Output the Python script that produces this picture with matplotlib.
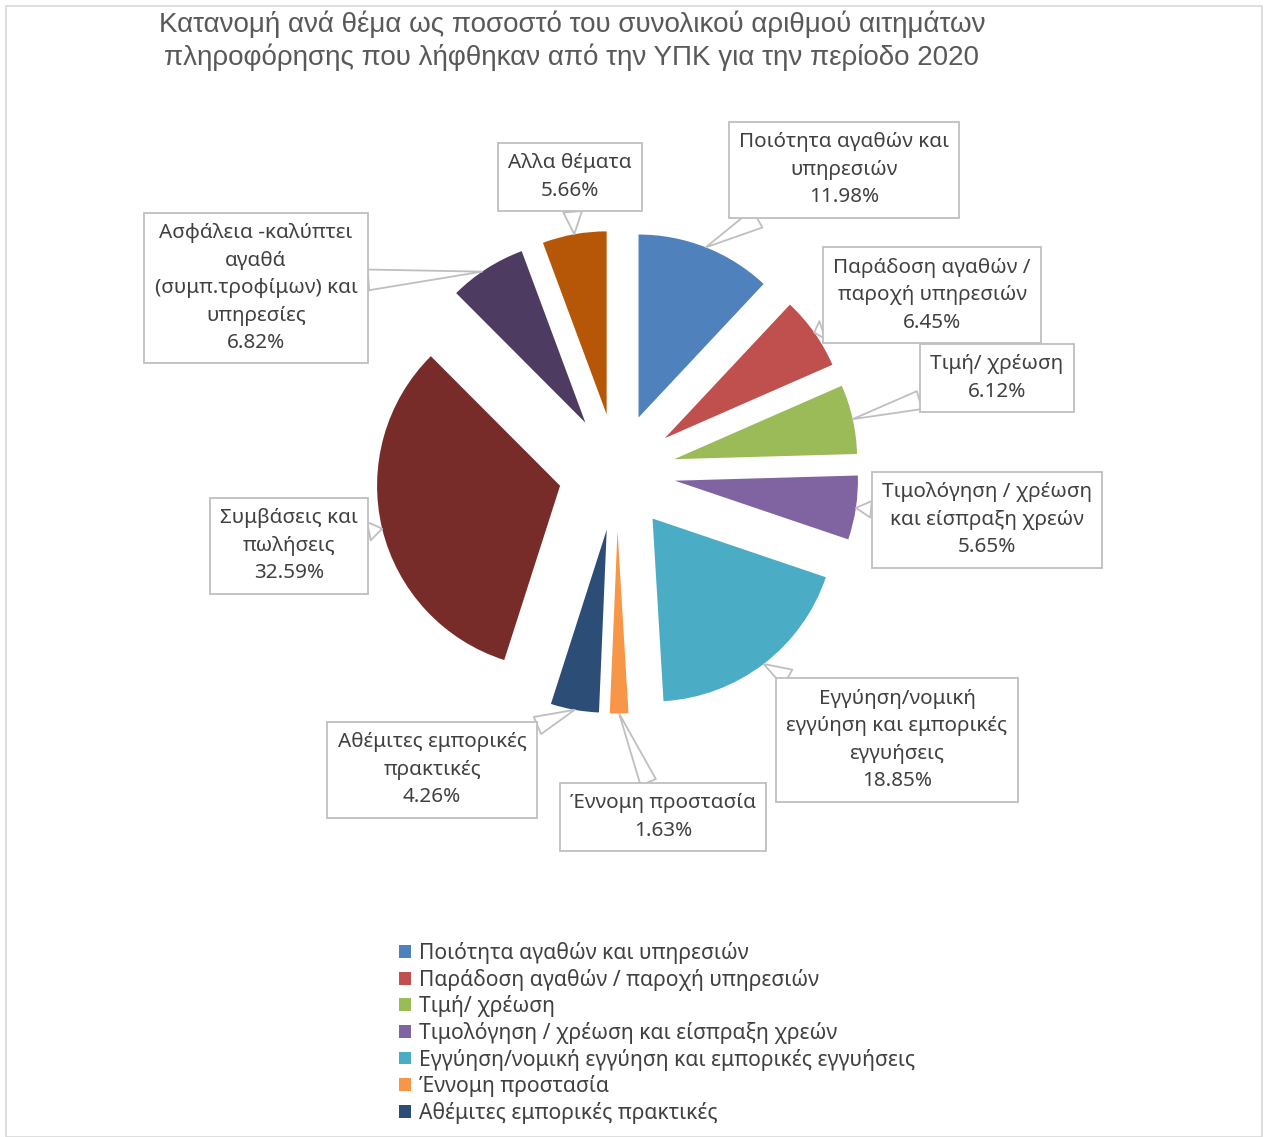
import matplotlib
matplotlib.use("Agg")
import matplotlib.pyplot as plt
import numpy as np
from matplotlib.patches import Rectangle

## Topic shares of information requests (%), clockwise from 12 o'clock
categories = [
    "Ποιότητα αγαθών και υπηρεσιών",
    "Παράδοση αγαθών / παροχή υπηρεσιών",
    "Τιμή/ χρέωση",
    "Τιμολόγηση / χρέωση και είσπραξη χρεών",
    "Εγγύηση/νομική εγγύηση και εμπορικές εγγυήσεις",
    "Έννομη προστασία",
    "Αθέμιτες εμπορικές πρακτικές",
    "Συμβάσεις και πωλήσεις",
    "Ασφάλεια -καλύπτει αγαθά (συμπ.τροφίμων) και υπηρεσίες",
    "Αλλα θέματα",
]
shares = [11.98, 6.45, 6.12, 5.65, 18.85, 1.63, 4.26, 32.59, 6.82, 5.66]

## label text as it is wrapped inside the callout boxes
label_lines = [
    ["Ποιότητα αγαθών και", "υπηρεσιών"],
    ["Παράδοση αγαθών /", "παροχή υπηρεσιών"],
    ["Τιμή/ χρέωση"],
    ["Τιμολόγηση / χρέωση", "και είσπραξη χρεών"],
    ["Εγγύηση/νομική", "εγγύηση και εμπορικές", "εγγυήσεις"],
    ["Έννομη προστασία"],
    ["Αθέμιτες εμπορικές", "πρακτικές"],
    ["Συμβάσεις και", "πωλήσεις"],
    ["Ασφάλεια -καλύπτει", "αγαθά", "(συμπ.τροφίμων) και", "υπηρεσίες"],
    ["Αλλα θέματα"],
]

colors = ["#4F81BD", "#C0504D", "#9BBB59", "#8064A2", "#4BACC6",
          "#F79646", "#2C4D75", "#772C2A", "#4D3B62", "#B65708"]

W, H = 1267, 1137
fig = plt.figure(figsize=(W / 100, H / 100), dpi=100)
fig.patches.append(Rectangle((6 / W, 0), 1256 / W, 1 - 6 / H, transform=fig.transFigure,
                             fill=False, ec="#d9d9d9", lw=1.2))

# pie axes: centre (617, 472) px, radius 183 px
cx, cy, R = 617, 472, 183
ax = fig.add_axes([(cx - 2 * R) / W, (H - cy - 2 * R) / H, 4 * R / W, 4 * R / H])
wedges, _ = ax.pie(shares, colors=colors, startangle=90, counterclock=False,
                   explode=[0.32] * len(shares), radius=1.0,
                   wedgeprops=dict(linewidth=0))
ax.set_xlim(-2, 2)
ax.set_ylim(-2, 2)
ax.set_aspect("equal")
ax.axis("off")

def px(x, y):
    return (x - cx) / R, (cy - y) / R

# callout box centres (pixels) and where on the arc the pointer lands (0..1 along the wedge)
box_pos = [(844, 170), (932, 295), (997, 378), (987, 520), (897, 740),
           (663, 817), (432, 770), (289, 546), (256, 288), (570, 177)]
anchor_t = [0.5, 0.5, 0.5, 0.5, 0.5, 0.5, 0.5, 0.5, 0.57, 0.5]
tail = [1.0, 0.9, 0.9, 0.8, 0.9, 0.8, 0.9, 0.9, 1.0, 0.9]

for w, lines, share, pos, t, tw in zip(wedges, label_lines, shares, box_pos, anchor_t, tail):
    th = np.deg2rad(w.theta1 + t * (w.theta2 - w.theta1))
    ex, ey = w.center
    tip = (ex + w.r * np.cos(th), ey + w.r * np.sin(th))
    txt = "\n".join(lines + [f"{share:.2f}%"])
    ax.annotate(txt, xy=tip, xytext=px(*pos), ha="center", va="center",
                fontsize=14.9, color="#404040", family=["Noto Sans", "DejaVu Sans"],
                linespacing=1.5, annotation_clip=False,
                bbox=dict(boxstyle="square,pad=0.5", fc="white", ec="#bfbfbf", lw=1.3),
                arrowprops=dict(arrowstyle=f"wedge,tail_width={tw},shrink_factor=0.5",
                                fc="white", ec="#bfbfbf", lw=1.3,
                                shrinkA=0, shrinkB=0))

fig.text(572 / W, 1 - 41 / H,
         "Κατανομή ανά θέμα ως ποσοστό του συνολικού αριθμού αιτημάτων\n"
         "πληροφόρησης που λήφθηκαν από την ΥΠΚ για την περίοδο 2020",
         ha="center", va="center", fontsize=20, color="#595959",
         family=["Liberation Sans", "DejaVu Sans"], linespacing=1.25)

# legend is clipped in the original: only the first seven entries show
handles = wedges[:7]
leg = fig.legend(handles, categories[:7], loc="upper left",
                 bbox_to_anchor=(380 / W, 1 - 923 / H), frameon=False,
                 prop=dict(family=["Noto Sans", "DejaVu Sans"], size=15.2),
                 labelcolor="#404040", handlelength=0.55, handleheight=0.55,
                 handletextpad=0.4, labelspacing=0.22)

fig.savefig("out.png", dpi=100, facecolor="white")
